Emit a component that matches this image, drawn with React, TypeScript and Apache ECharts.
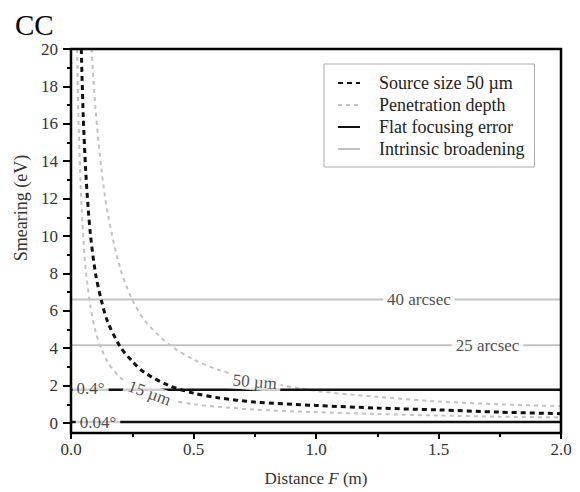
import React, { useEffect, useRef } from "react";
import * as echarts from "echarts";

// Source size 50 µm (black dashed)
const sourceF = [0.042, 0.05, 0.06, 0.07, 0.08, 0.1, 0.125, 0.15, 0.2, 0.25, 0.3, 0.4, 0.5, 0.6, 0.75, 1.0, 1.25, 1.5, 1.75, 2.0];
const sourceSmear = [20, 16.4, 13.5, 11.5, 10, 8.0, 6.5, 5.4, 4.1, 3.3, 2.7, 2.0, 1.6, 1.35, 1.12, 0.94, 0.8, 0.7, 0.58, 0.5];

// Penetration depth 15 µm (gray dashed, lower)
const pen15F = [0.025, 0.03, 0.04, 0.05, 0.06, 0.08, 0.1, 0.125, 0.15, 0.2, 0.25, 0.3, 0.4, 0.5, 0.75, 1.0, 1.25, 1.5, 1.75, 2.0];
const pen15Smear = [20, 16.5, 12.5, 10, 8.2, 6.2, 4.9, 3.95, 3.25, 2.45, 2.0, 1.65, 1.25, 1.0, 0.72, 0.58, 0.48, 0.4, 0.34, 0.3];

// Penetration depth 50 µm (gray dashed, upper)
const pen50F = [0.084, 0.1, 0.125, 0.15, 0.2, 0.25, 0.3, 0.4, 0.5, 0.6, 0.75, 1.0, 1.25, 1.5, 1.75, 2.0];
const pen50Smear = [20, 16.8, 13.5, 11.2, 8.3, 6.6, 5.5, 4.2, 3.4, 2.85, 2.3, 1.72, 1.4, 1.15, 1.0, 0.9];

// Flat focusing error (black solid): 0.4° and 0.04°
const flatLevels = [1.78, 0.05];
// Intrinsic broadening (gray solid): 40 arcsec and 25 arcsec
const intrinsicLevels = [6.61, 4.16];
const fRange = [0, 2];

// In-plot annotations
const annoText = ["0.4°", "0.04°", "15 µm", "50 µm", "40 arcsec", "25 arcsec"];
const annoF = [0.08, 0.11, 0.32, 0.75, 1.42, 1.7];
const annoSmear = [1.85, 0.05, 1.6, 2.2, 6.61, 4.16];
const annoRotate = [0, 0, -20, -5, 0, 0];

const legendNames = ["Source size 50 µm", "Penetration depth", "Flat focusing error", "Intrinsic broadening"];

const xTicks = { min: 0, max: 2, interval: 0.5 };
const yTicks = { min: 0, max: 20, interval: 2 };

const zip = (a: number[], b: number[]) => a.map((v, i) => [v, b[i]]);
const SERIF = "'Liberation Serif', 'Times New Roman', serif";

export default function App() {
  const ref = useRef<HTMLDivElement>(null);
  useEffect(() => {
    const chart = echarts.init(ref.current!, null, { renderer: "svg" });
    const BLACK = "#111";
    const GRAY = "#c2c2c2";
    const series: any[] = [
      {
        type: "line",
        name: legendNames[0],
        data: zip(sourceF, sourceSmear),
        symbol: "none",
        smooth: 0.3,
        color: BLACK,
        lineStyle: { width: 3, type: [5, 4], color: BLACK },
        z: 3,
      },
      {
        type: "line",
        name: legendNames[1],
        data: zip(pen15F, pen15Smear),
        symbol: "none",
        smooth: 0.3,
        color: GRAY,
        lineStyle: { width: 2, type: [4, 4], color: GRAY },
        z: 2,
      },
      {
        type: "line",
        name: legendNames[1],
        data: zip(pen50F, pen50Smear),
        symbol: "none",
        smooth: 0.3,
        color: GRAY,
        lineStyle: { width: 2, type: [4, 4], color: GRAY },
        z: 2,
      },
      ...flatLevels.map((lv) => ({
        type: "line",
        name: legendNames[2],
        data: fRange.map((f) => [f, lv]),
        symbol: "none",
        color: BLACK,
        lineStyle: { width: 2.5, color: BLACK },
        z: 2,
      })),
      ...intrinsicLevels.map((lv) => ({
        type: "line",
        name: legendNames[3],
        data: fRange.map((f) => [f, lv]),
        symbol: "none",
        color: GRAY,
        lineStyle: { width: 2, color: GRAY },
        z: 1,
      })),
      {
        type: "scatter",
        name: "annotations",
        symbolSize: 0,
        z: 10,
        silent: true,
        data: annoText.map((t, i) => ({
          name: t,
          value: [annoF[i], annoSmear[i]],
          label: { rotate: annoRotate[i] },
        })),
        label: {
          show: true,
          position: "inside",
          formatter: (p: any) => p.name,
          fontFamily: SERIF,
          fontSize: 17,
          color: "#222",
          backgroundColor: "#fff",
          padding: [0, 4, 0, 4],
        },
      },
    ];

    const option: any = {
      animation: false,
      backgroundColor: "#fff",
      grid: { left: 71, top: 49, right: 19, bottom: 68.4, containLabel: false },
      legend: {
        orient: "vertical",
        left: 324,
        top: 64,
        data: legendNames,
        itemWidth: 22,
        itemHeight: 14,
        itemGap: 4,
        padding: [10, 10, 9, 13],
        borderColor: "#aaa",
        borderWidth: 1,
        itemStyle: { color: "transparent", borderWidth: 0, opacity: 0 },
        textStyle: {
          fontFamily: SERIF,
          fontSize: 18,
          color: "#222",
          padding: [0, 0, 0, 14],
          width: 166,
          overflow: "none",
        },
      },
      xAxis: {
        type: "value",
        ...xTicks,
        offset: 10,
        axisLine: { show: false, onZero: false },
        axisTick: { show: true, inside: false, length: 6, lineStyle: { color: "#000", width: 2 } },
        minorTick: { show: true, splitNumber: 2, length: 4, lineStyle: { color: "#000", width: 2 } },
        splitLine: { show: false },
        axisLabel: {
          formatter: (v: number) => v.toFixed(1),
          fontFamily: SERIF,
          fontSize: 17,
          color: "#333",
          margin: 8,
        },
        name: "{a|Distance }{i|F}{a| (m)}",
        nameLocation: "middle",
        nameGap: 37,
        nameTextStyle: {
          rich: {
            a: { fontFamily: SERIF, fontSize: 17, color: "#333" },
            i: { fontFamily: SERIF, fontSize: 17, fontStyle: "italic", color: "#333" },
          },
        },
      },
      yAxis: {
        type: "value",
        ...yTicks,
        axisLine: { show: false },
        axisTick: { show: true, inside: false, length: 8, lineStyle: { color: "#000", width: 2 } },
        minorTick: { show: true, splitNumber: 2, length: 4, lineStyle: { color: "#000", width: 2 } },
        splitLine: { show: false },
        axisLabel: { fontFamily: SERIF, fontSize: 17, color: "#333", margin: 13 },
      },
      graphic: [
        {
          type: "rect",
          silent: true,
          z: 100,
          shape: { x: 71, y: 49, width: 490, height: 384 },
          style: { fill: "none", stroke: "#000", lineWidth: 2.5 },
        },
        {
          type: "text",
          left: 15,
          top: 10,
          style: { text: "CC", font: `29px ${SERIF}`, fill: "#000" },
        },
        {
          type: "text",
          x: 21,
          y: 208,
          rotation: Math.PI / 2,
          style: {
            text: "Smearing (eV)",
            font: `18px ${SERIF}`,
            fill: "#333",
            textAlign: "center",
            textVerticalAlign: "middle",
          },
        },
      ],
      series,
    };
    chart.setOption(option);
    return () => chart.dispose();
  }, []);
  return (
    <div
      ref={ref}
      style={{ position: "fixed", left: 0, top: 0, width: 580, height: 492, background: "#fff" }}
    />
  );
}
